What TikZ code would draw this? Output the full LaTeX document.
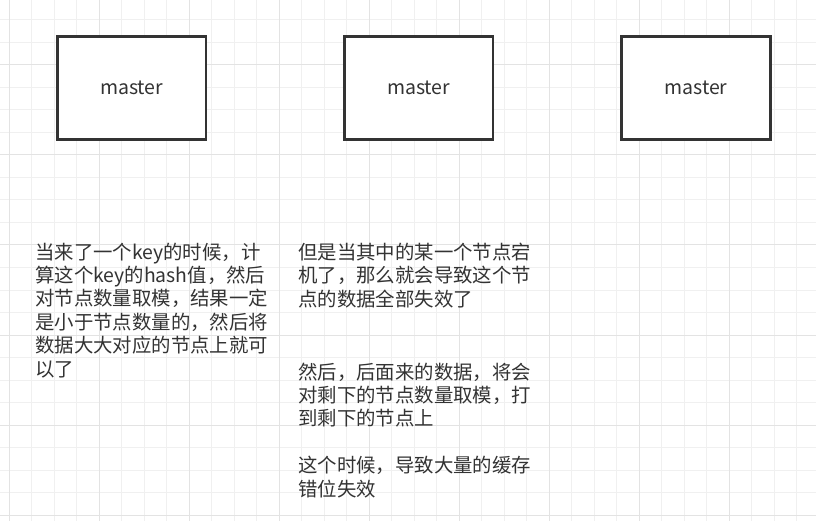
\documentclass[tikz,border=0pt]{standalone}
\usepackage{fontspec}
\setmainfont{Noto Sans CJK SC}
\usetikzlibrary{positioning}
\definecolor{gridminor}{HTML}{F0F0F0}
\definecolor{gridmajor}{HTML}{E3E3E3}
\definecolor{inkgray}{HTML}{333333}

\begin{document}
\begin{tikzpicture}[
        x=1pt, y=-1pt,
        every node/.style={text=inkgray},
        master/.style={draw=inkgray, line width=2.7pt, outer sep=0pt, fill=white, minimum width=148.6pt, minimum height=103pt, font=\fontsize{19.5}{23.5}\selectfont},
        note/.style={anchor=base west, inner sep=0pt, align=left, font=\fontsize{19.4}{23.4}\selectfont}
    ]
    \useasboundingbox (0,0) rectangle (816,521);
    \clip (0,0) rectangle (816,521);
    % grid
    \fill[white] (0,0) rectangle (816,521);
    \foreach \k in {-1,...,36} {
        \draw[gridminor, line width=1pt] ({9+22.5*\k},0) -- ({9+22.5*\k},521);
    }
    \foreach \k in {-1,...,22} {
        \draw[gridminor, line width=1pt] (0,{20+22.5*\k}) -- (816,{20+22.5*\k});
    }
    \foreach \k in {0,...,9} {
        \draw[gridmajor, line width=1pt] ({9+90*\k},0) -- ({9+90*\k},521);
    }
    \foreach \k in {-1,...,5} {
        \draw[gridmajor, line width=1pt] (0,{65+90*\k}) -- (816,{65+90*\k});
    }
    % masters
    \node[master] (m1) at (131.7,87.85) {master};
    \node[master, right=138.3pt of m1] (m2) {master};
    \node[master, right=128.7pt of m2] (m3) {master};
    % notes (anchored at the baseline of their last line)
    \node[note] (hashnote) at (35,376) {当来了一个key的时候，计\\算这个key的hash值，然后\\对节点数量取模，结果一定\\是小于节点数量的，然后将\\数据大大对应的节点上就可\\以了};
    \node[note] (downnote) at (298,306) {但是当其中的某一个节点宕\\机了，那么就会导致这个节\\点的数据全部失效了};
    \node[note] (missnote) at (298,496) {然后，后面来的数据，将会\\对剩下的节点数量取模，打\\到剩下的节点上\\[23.4pt]这个时候，导致大量的缓存\\错位失效};
\end{tikzpicture}
\end{document}
